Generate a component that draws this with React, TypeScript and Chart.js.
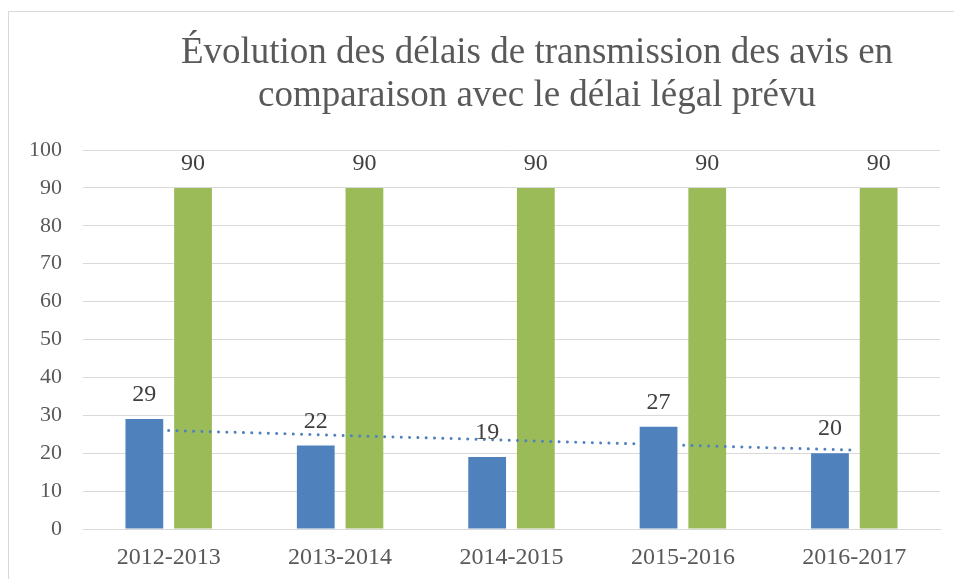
import React, { useEffect, useRef } from "react";
import { Chart, registerables } from "chart.js";

Chart.register(...registerables);

const categories = ["2012-2013", "2013-2014", "2014-2015", "2015-2016", "2016-2017"];
const delaisTransmission = [29, 22, 19, 27, 20];
const delaiLegal = [90, 90, 90, 90, 90];
const tendance = [26.0, 24.7, 23.4, 22.1, 20.8];
const titleLines = ["Évolution des délais de transmission des avis en", "comparaison avec le délai légal prévu"];

const BLUE = "#4F81BD";
const GREEN = "#9BBB59";
const FONT = "'Liberation Serif', 'Times New Roman', serif";

const dataLabelPlugin = {
  id: "dataLabels",
  afterDatasetsDraw(chart: any) {
    const ctx = chart.ctx;
    ctx.save();
    ctx.font = `24px ${FONT}`;
    ctx.fillStyle = "#404040";
    ctx.textAlign = "center";
    ctx.textBaseline = "middle";
    chart.data.datasets.forEach((ds: any, i: number) => {
      if (ds.type === "line") return;
      const meta = chart.getDatasetMeta(i);
      meta.data.forEach((el: any, j: number) => {
        ctx.fillText(String(ds.data[j]), el.x, el.y - 24);
      });
    });
    ctx.restore();
  },
};

const titleShiftPlugin = {
  id: "titleShift",
  afterLayout(chart: any) {
    const t = chart.titleBlock;
    if (t) {
      t.left += 67;
      t.right += 67;
    }
  },
};

export default function App() {
  const ref = useRef<HTMLCanvasElement | null>(null);

  useEffect(() => {
    document.body.style.margin = "0";
    document.body.style.overflow = "hidden";
    if (!ref.current) return;
    const chart = new Chart(ref.current, {
      type: "bar",
      data: {
        labels: categories,
        datasets: [
          {
            type: "line",
            label: "Tendance",
            data: tendance,
            borderColor: BLUE,
            borderWidth: 3,
            borderDash: [0.01, 8.3],
            borderCapStyle: "round",
            pointRadius: 0,
            fill: false,
            order: 0,
          } as any,
          {
            type: "bar",
            label: "Délai de transmission",
            data: delaisTransmission,
            backgroundColor: BLUE,
            categoryPercentage: 0.568,
            barPercentage: 0.776,
            order: 1,
          },
          {
            type: "bar",
            label: "Délai légal",
            data: delaiLegal,
            backgroundColor: GREEN,
            categoryPercentage: 0.568,
            barPercentage: 0.776,
            order: 1,
          },
        ],
      },
      options: {
        animation: false,
        responsive: false,
        layout: { padding: { left: 0, right: 14, top: 0, bottom: 0 } },
        plugins: {
          legend: { display: false },
          tooltip: { enabled: false },
          title: {
            display: true,
            text: titleLines,
            color: "#595959",
            font: { family: FONT, size: 37, weight: "normal", lineHeight: 43 / 37 },
            padding: { top: 32, bottom: 32 },
          },
        },
        scales: {
          x: {
            grid: { display: false, drawTicks: false },
            border: { display: true, color: "#d9d9d9", width: 1 },
            ticks: {
              color: "#595959",
              font: { family: FONT, size: 24 },
              padding: 14,
              maxRotation: 0,
            },
            afterFit(scale: any) {
              scale.height = 50;
            },
          },
          y: {
            min: 0,
            max: 100,
            ticks: {
              stepSize: 10,
              color: "#595959",
              font: { family: FONT, size: 22 },
              padding: 21,
            },
            grid: { color: "#d9d9d9", lineWidth: 1, drawTicks: false },
            border: { display: false },
            afterFit(scale: any) {
              scale.width = 83;
            },
          },
        },
      },
      plugins: [dataLabelPlugin, titleShiftPlugin],
    });
    return () => chart.destroy();
  }, []);

  return (
    <div style={{ position: "relative", width: 954, height: 579, overflow: "hidden", background: "#fff" }}>
      <div
        style={{
          position: "absolute",
          left: 8,
          top: 11,
          width: 1000,
          height: 700,
          borderLeft: "1px solid #d9d9d9",
          borderTop: "1px solid #d9d9d9",
        }}
      />
      <canvas
        ref={ref}
        width={954}
        height={579}
        style={{ position: "absolute", left: 0, top: 0, width: 954, height: 579, display: "block" }}
      />
    </div>
  );
}
